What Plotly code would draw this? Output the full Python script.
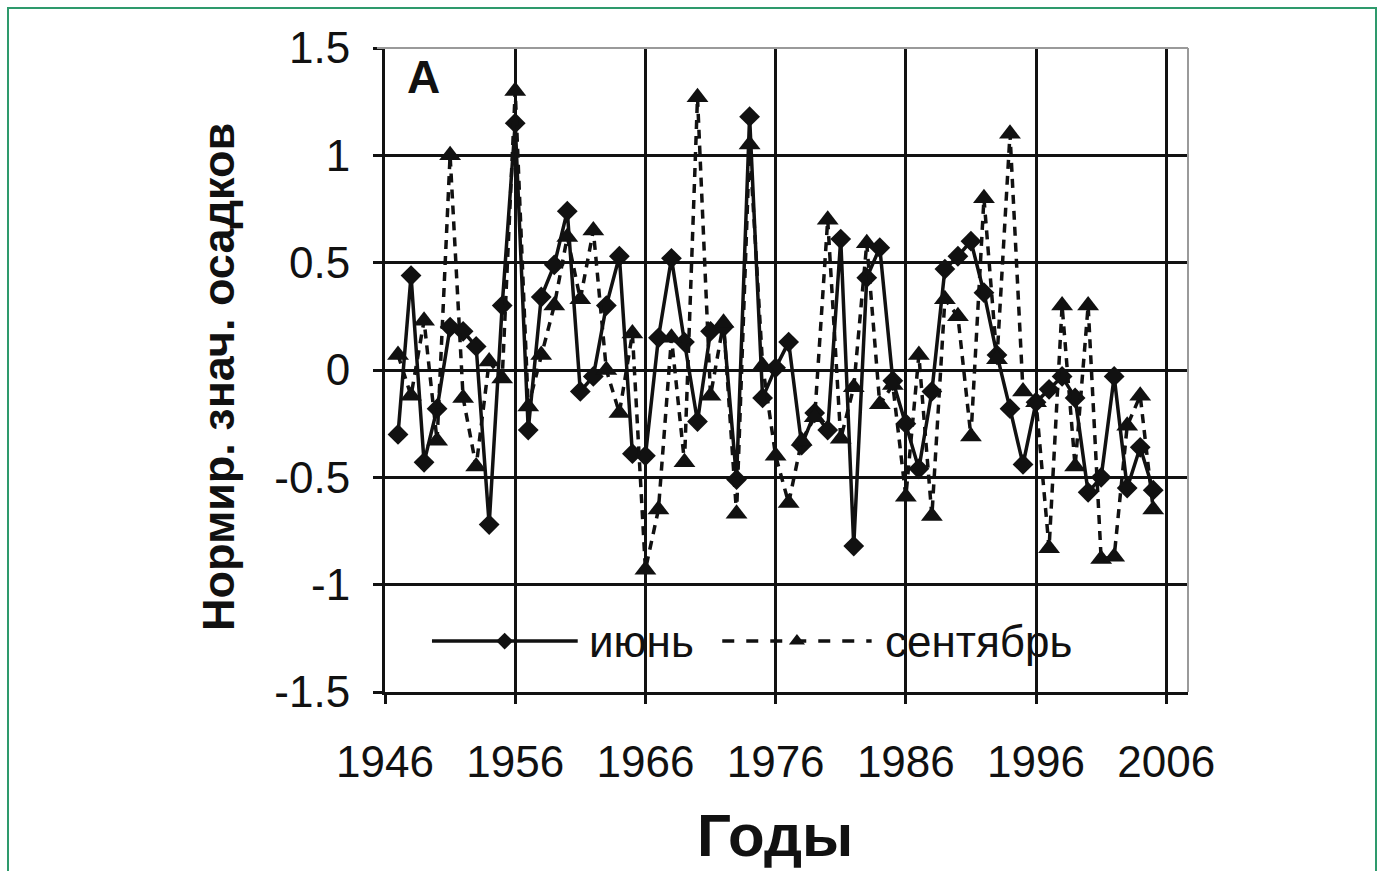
import plotly.graph_objects as go

# Normalised precipitation, June and September
years = list(range(1947, 2006))

june = [
    -0.30, 0.44, -0.43, -0.18, 0.20, 0.18, 0.11, -0.72, 0.30, 1.15,
    -0.28, 0.34, 0.49, 0.74, -0.10, -0.03, 0.30, 0.53, -0.39, -0.40,
    0.15, 0.52, 0.13, -0.24, 0.18, 0.20, -0.51, 1.18, -0.13, 0.01,
    0.13, -0.35, -0.20, -0.28, 0.61, -0.82, 0.43, 0.57, -0.05, -0.25,
    -0.46, -0.10, 0.47, 0.53, 0.60, 0.36, 0.07, -0.18, -0.44, -0.15,
    -0.09, -0.03, -0.13, -0.57, -0.50, -0.03, -0.55, -0.36, -0.56,
]

september = [
    0.07, -0.12, 0.23, -0.33, 1.00, -0.13, -0.45, 0.04, -0.04, 1.30,
    -0.17, 0.07, 0.30, 0.62, 0.33, 0.65, 0.00, -0.20, 0.17, -0.93,
    -0.65, 0.15, -0.43, 1.27, -0.12, 0.22, -0.67, 1.05, 0.02, -0.40,
    -0.62, -0.33, -0.22, 0.70, -0.32, -0.08, 0.59, -0.16, -0.07, -0.59,
    0.07, -0.68, 0.33, 0.25, -0.31, 0.80, 0.05, 1.10, -0.10, -0.15,
    -0.83, 0.30, -0.45, 0.30, -0.88, -0.87, -0.26, -0.12, -0.65,
]

x_ticks = [1946, 1956, 1966, 1976, 1986, 1996, 2006]
x_tick_text = [str(v) for v in x_ticks]
y_ticks = [-1.5, -1.0, -0.5, 0.0, 0.5, 1.0, 1.5]
y_tick_text = ["-1.5", "-1", "-0.5", "0", "0.5", "1", "1.5"]

series_names = ["июнь", "сентябрь"]

FONT = "Liberation Sans, Arial, sans-serif"
INK = "#111111"
DASH = "9px,7px"
KEY_DASH = "12px,12px"

fig = go.Figure()

fig.add_trace(go.Scatter(
    x=years, y=june, mode="lines+markers", name=series_names[0],
    line=dict(color=INK, width=3.5),
    marker=dict(symbol="diamond", size=16, color=INK),
    showlegend=False,
))
fig.add_trace(go.Scatter(
    x=years, y=september, mode="lines+markers", name=series_names[1],
    line=dict(color=INK, width=3.5, dash=DASH),
    marker=dict(symbol="triangle-up", size=19, color=INK),
    showlegend=False,
))

# In-plot key drawn on an overlay axis spanning the plot area (0..1)
key_y = 0.079
key_lines = [
    dict(x=[0.0585, 0.240], mid=0.149, dash="solid", symbol="diamond", size=13),
    dict(x=[0.420, 0.606], mid=0.513, dash=KEY_DASH, symbol="triangle-up", size=14),
]
for k in key_lines:
    fig.add_trace(go.Scatter(
        x=k["x"], y=[key_y, key_y], xaxis="x2", yaxis="y2", mode="lines",
        line=dict(color=INK, width=3.5, dash=k["dash"]),
        showlegend=False, hoverinfo="skip",
    ))
    fig.add_trace(go.Scatter(
        x=[k["mid"]], y=[key_y], xaxis="x2", yaxis="y2", mode="markers",
        marker=dict(symbol=k["symbol"], size=k["size"], color=INK),
        showlegend=False, hoverinfo="skip",
    ))

annotations = [
    dict(x=0.251, y=key_y, xref="paper", yref="paper", text=series_names[0],
         showarrow=False, xanchor="left", yanchor="middle",
         font=dict(family=FONT, size=44, color=INK)),
    dict(x=0.620, y=key_y, xref="paper", yref="paper", text=series_names[1],
         showarrow=False, xanchor="left", yanchor="middle",
         font=dict(family=FONT, size=44, color=INK)),
    dict(x=0.025, y=0.955, xref="paper", yref="paper", text="<b>A</b>",
         showarrow=False, xanchor="left", yanchor="middle",
         font=dict(family=FONT, size=46, color=INK)),
    dict(x=(218 - 385) / 803, y=(692 - 377) / 644, xref="paper", yref="paper",
         text="<b>Нормир. знач. осадков</b>", textangle=-90,
         showarrow=False, xanchor="center", yanchor="middle",
         font=dict(family=FONT, size=45, color=INK)),
    dict(x=(775 - 385) / 803, y=(692 - 835) / 644, xref="paper", yref="paper",
         text="<b>Годы</b>", showarrow=False, xanchor="center", yanchor="middle",
         font=dict(family=FONT, size=60, color=INK)),
]

shapes = [
    # light frame on the top and right of the plot area
    dict(type="line", xref="paper", yref="paper", x0=-0.01, x1=1, y0=1, y1=1,
         line=dict(color="#9a9a9a", width=2)),
    dict(type="line", xref="paper", yref="paper", x0=1, x1=1, y0=0, y1=1,
         line=dict(color="#9a9a9a", width=2)),
    # green page border
    dict(type="rect", xref="paper", yref="paper",
         x0=(8 - 385) / 803, x1=(1376 - 385) / 803,
         y0=(692 - 900) / 644, y1=(692 - 8) / 644,
         line=dict(color="#2e9a6c", width=2), fillcolor="rgba(0,0,0,0)",
         layer="below"),
]

fig.update_layout(
    width=1384, height=871,
    margin=dict(l=385, r=196, t=48, b=179),
    paper_bgcolor="white", plot_bgcolor="white",
    showlegend=False,
    font=dict(family=FONT, size=42, color=INK),
    xaxis=dict(
        range=[1946, 2007.67], tickvals=x_ticks, ticktext=x_tick_text,
        showgrid=True, gridcolor=INK, gridwidth=3,
        showline=True, linecolor=INK, linewidth=3,
        ticks="outside", ticklen=9, tickwidth=3, tickcolor=INK,
        ticklabelstandoff=20, zeroline=False,
        tickfont=dict(family=FONT, size=44, color=INK),
    ),
    yaxis=dict(
        range=[-1.5, 1.5], tickvals=y_ticks, ticktext=y_tick_text,
        showgrid=True, gridcolor=INK, gridwidth=3,
        showline=True, linecolor=INK, linewidth=3,
        ticks="outside", ticklen=9, tickwidth=3, tickcolor=INK,
        ticklabelstandoff=14, zeroline=False,
        tickfont=dict(family=FONT, size=44, color=INK),
    ),
    xaxis2=dict(overlaying="x", range=[0, 1], visible=False),
    yaxis2=dict(overlaying="y", range=[0, 1], visible=False),
    annotations=annotations,
    shapes=shapes,
)

fig.write_html("out.html")
